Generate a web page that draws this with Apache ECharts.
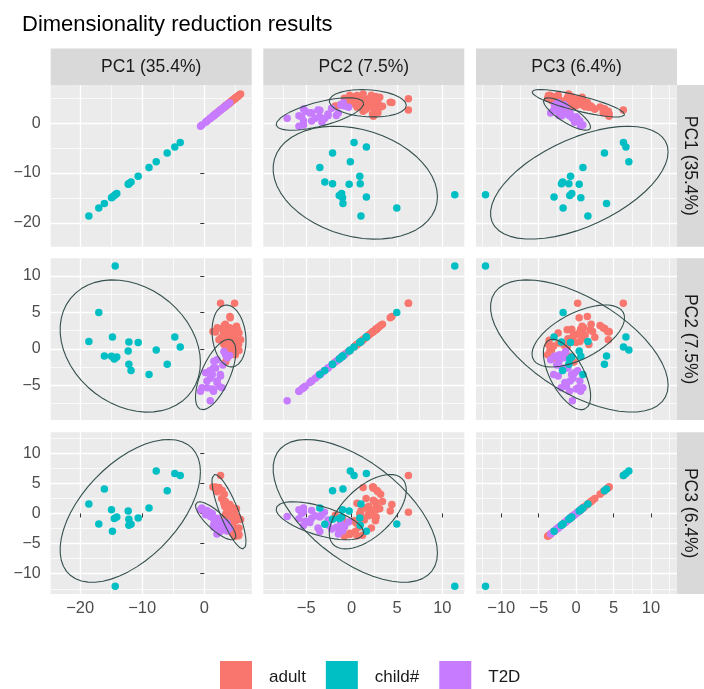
<!DOCTYPE html>
<html>
<head>
<meta charset="utf-8">
<title>Dimensionality reduction results</title>
<script src="https://cdn.jsdelivr.net/npm/echarts@6/dist/echarts.min.js"></script>
<style>
  html, body { margin: 0; padding: 0; background: #ffffff; }
  #chart { width: 704px; height: 689px; }
</style>
</head>
<body>
<div id="chart"></div>
<script>
// ---- data: principal component scores per sample group ----
const groupNames = ['adult', 'child#', 'T2D'];
const pcTitles = ['PC1 (35.4%)', 'PC2 (7.5%)', 'PC3 (6.4%)'];

const adultPC1 = [2.63, 4.89, 4.14, 4.19, 2.9, 1.83, 1.4, 3.44, 5.05, 5.6, 5.86, 2.37, 3.98, 4.78, 3.17, 5.32,
  4.52, 5.6, 3.71, 3.44, 3.98, 3.23, 1.77, 4.73, 5.37, 5.53, 3.66, 4.0, 3.6, 4.3, 3.3, 4.6,
  3.8, 4.9, 3.1, 4.4, 5.1, 4.1, 3.5, 4.7, 2.8, 5.2, 3.9, 4.5, 2.1, 5.0, 4.2, 3.4];
const adultPC2 = [6.26, 6.26, 4.44, 4.26, 2.8, 2.31, 2.4, 2.63, 2.63, 2.18, 1.27, 1.27, 1.04, 0.82, 0.6, 0.4,
  -0.2, -0.2, -1.0, -1.8, -0.6, 3.2, 2.4, 2.7, 2.63, 0.6, -1.3, 2.0, 1.5, 1.8, 1.9, 1.4,
  2.7, 1.9, 2.4, 0.5, 1.2, 2.9, 0.9, 2.3, 1.6, 3.1, 0.3, 2.7, 2.9, -0.8, 1.0, 3.4];
const adultPC3 = [6.3, 0.2, 1.5, 0.4, 3.8, 4.4, 4.4, 1.9, -1.2, -2.4, -1.0, 4.3, 0.5, -2.3, 1.7, -3.0,
  -3.3, -3.5, -0.8, -0.3, -1.5, 3.2, 4.2, 0.9, -0.6, -3.7, -2.6, 0.2, 0.9, -0.3, 1.2, -1.1,
  0.6, -0.4, 2.2, -1.6, -3.6, 1.0, 0.0, 0.5, 2.5, 0.8, -1.2, -0.6, 3.6, -3.8, -0.5, 2.0];

const childPC1 = [-14.35, -17.0, -18.6, -14.8, -12.15, -10.65, -4.75, -3.87, -7.74, -12.26, -16.1, -14.95,
  -14.1, -14.5, -12.15, -11.8, -5.97, -8.9];
const childPC2 = [11.37, 4.98, 1.03, 1.63, 0.95, 0.9, 1.63, 0.27, -0.14, -0.27, -0.95, -1.0,
  -1.1, -1.36, -2.1, -2.95, -2.1, -3.5];
const childPC3 = [-12.1, -1.74, 1.57, -2.95, -1.96, -0.75, 6.65, 6.32, 7.04, 0.41, 4.06, 0.63,
  -0.58, -0.85, -0.97, -1.8, 3.78, 0.91];

const t2dPC1 = [0.97, -0.37, 0.48, 1.29, 1.5, 2.37, 2.85, 0.43, 2.1, 2.05, 0.21, 1.29, 2.63, 2.58,
  1.83, 1.5, 1.56, 2.05, 3.44, 3.7, 3.66, 3.17, 4.1, 0.9, 1.0, 3.0, -0.6];
const t2dPC2 = [-7.1, -5.3, -5.3, -5.5, -5.8, -5.1, -5.3, -4.4, -4.4, -4.6, -3.27, -3.5, -3.7, -3.5,
  -2.6, -2.6, -1.68, -1.46, -0.78, -1.2, -1.0, -0.33, -0.9, -3.0, -4.0, -2.2, -5.8];
const t2dPC3 = [-0.5, 0.9, 0.3, 0.0, -0.9, -1.3, -2.0, 0.5, -0.8, -1.5, -0.2, -0.6, -2.4, -3.0,
  -1.1, -1.9, -2.3, -3.4, -2.2, -1.6, -2.9, -1.4, -2.4, 0.2, -0.4, -2.6, 0.6];

// labelled ticks of each component axis
const pcTicks = [[-20, -10, 0], [-5, 0, 5, 10], [-10, -5, 0, 5, 10]];

// ---- styling / layout ----
const groupColors = { 'adult': '#F8766D', 'child#': '#00BFC4', 'T2D': '#C77CFF' };
const drawOrder = ['adult', 'T2D', 'child#'];
const pcRanges = [[-24.75, 7.65], [-9.73, 12.42], [-13.37, 13.47]];
const pcSplits = [3, 4, 5];
const colLeft = [50.7, 263.3, 476];
const rowTop = [85, 258.3, 432.3];
const panelW = 201;
const panelH = 161.7;
const FONT = '"Liberation Sans", Arial, sans-serif';

const scores = {
  'adult': [adultPC1, adultPC2, adultPC3],
  'child#': [childPC1, childPC2, childPC3],
  'T2D': [t2dPC1, t2dPC2, t2dPC3]
};

// 95% confidence ellipse (same construction as ggplot2::stat_ellipse)
function confidenceEllipse(xs, ys, level, segments) {
  const n = xs.length;
  const mx = xs.reduce((a, b) => a + b, 0) / n;
  const my = ys.reduce((a, b) => a + b, 0) / n;
  let sxx = 0, syy = 0, sxy = 0;
  for (let k = 0; k < n; k++) {
    const dx = xs[k] - mx, dy = ys[k] - my;
    sxx += dx * dx; syy += dy * dy; sxy += dx * dy;
  }
  sxx /= (n - 1); syy /= (n - 1); sxy /= (n - 1);
  const dfd = n - 1;
  const fq = (dfd / 2) * (Math.pow(1 - level, -2 / dfd) - 1); // qf(level, 2, dfd)
  const radius = Math.sqrt(2 * fq);
  const a = Math.sqrt(sxx);
  const b = sxy / a;
  const c = Math.sqrt(Math.max(syy - b * b, 0));
  const pts = [];
  for (let s = 0; s <= segments; s++) {
    const t = 2 * Math.PI * s / segments;
    const u = Math.cos(t), v = Math.sin(t);
    pts.push([mx + radius * a * u, my + radius * (b * u + c * v)]);
  }
  return pts;
}

const fmtMinus = v => (v < 0 ? '\u2212' + Math.abs(v) : String(v));

const grids = [], xAxes = [], yAxes = [], series = [];
for (let i = 0; i < 3; i++) {
  for (let j = 0; j < 3; j++) {
    const k = i * 3 + j;
    grids.push({
      left: colLeft[j], top: rowTop[i], width: panelW, height: panelH,
      show: true, backgroundColor: '#EBEBEB', borderWidth: 0
    });
    const bottomRow = i === 2;
    const leftCol = j === 0;
    xAxes.push({
      type: 'value', gridIndex: k, min: pcRanges[j][0], max: pcRanges[j][1],
      splitNumber: pcSplits[j],
      axisLine: { show: false },
      axisTick: { show: bottomRow, length: 4, customValues: pcTicks[j], lineStyle: { color: '#333333', width: 1 } },
      axisLabel: { show: bottomRow, customValues: pcTicks[j], formatter: fmtMinus, margin: 6,
        color: '#4D4D4D', fontSize: 16.5, fontFamily: FONT },
      splitLine: { show: true, lineStyle: { color: '#FFFFFF', width: 1.3 } },
      minorTick: { show: false, splitNumber: 2 },
      minorSplitLine: { show: true, lineStyle: { color: '#FFFFFF', width: 0.7 } }
    });
    yAxes.push({
      type: 'value', gridIndex: k, min: pcRanges[i][0], max: pcRanges[i][1],
      splitNumber: pcSplits[i],
      axisLine: { show: false },
      axisTick: { show: leftCol, length: 4, customValues: pcTicks[i], lineStyle: { color: '#333333', width: 1 } },
      axisLabel: { show: leftCol, customValues: pcTicks[i], formatter: fmtMinus, margin: 10,
        color: '#4D4D4D', fontSize: 16, fontFamily: FONT },
      splitLine: { show: true, lineStyle: { color: '#FFFFFF', width: 1.3 } },
      minorTick: { show: false, splitNumber: 2 },
      minorSplitLine: { show: true, lineStyle: { color: '#FFFFFF', width: 0.7 } }
    });

    drawOrder.forEach((g, gi) => {
      const xs = scores[g][j], ys = scores[g][i];
      series.push({
        name: g, type: 'scatter', xAxisIndex: k, yAxisIndex: k,
        data: xs.map((x, idx) => [x, ys[idx]]),
        symbol: 'circle', symbolSize: 7.5,
        itemStyle: { color: groupColors[g], opacity: 1 },
        z: 2 + gi, silent: true, animation: false
      });
    });
    if (i !== j) {
      groupNames.forEach(g => {
        series.push({
          name: g + ' ellipse', type: 'line', xAxisIndex: k, yAxisIndex: k,
          data: confidenceEllipse(scores[g][j], scores[g][i], 0.95, 51),
          showSymbol: false, symbol: 'none', smooth: false,
          lineStyle: { color: '#34504E', width: 1.1 },
          z: 10, silent: true, animation: false
        });
      });
    }
  }
}

// facet strips
const graphics = [];
for (let j = 0; j < 3; j++) {
  graphics.push({ type: 'rect', shape: { x: colLeft[j], y: 48.5, width: panelW, height: 36.5 },
    style: { fill: '#D9D9D9' }, silent: true });
  graphics.push({ type: 'text', x: colLeft[j] + panelW / 2, y: 67,
    style: { text: pcTitles[j], fill: '#1A1A1A', fontSize: 17.5, fontFamily: FONT, align: 'center', verticalAlign: 'middle' },
    silent: true });
}
for (let i = 0; i < 3; i++) {
  graphics.push({ type: 'rect', shape: { x: 677, y: rowTop[i], width: 30, height: panelH },
    style: { fill: '#D9D9D9' }, silent: true });
  graphics.push({ type: 'text', x: 690, y: rowTop[i] + panelH / 2, rotation: -Math.PI / 2,
    style: { text: pcTitles[i], fill: '#1A1A1A', fontSize: 17.5, fontFamily: FONT, align: 'center', verticalAlign: 'middle' },
    silent: true });
}

const chart = echarts.init(document.getElementById('chart'), null, { renderer: 'canvas' });
chart.setOption({
  animation: false,
  backgroundColor: '#FFFFFF',
  title: {
    text: 'Dimensionality reduction results', left: 17, top: 9,
    textStyle: { fontSize: 22, fontWeight: 'normal', color: '#000000', fontFamily: FONT }
  },
  legend: {
    data: groupNames, left: 220, top: 661, padding: 0, itemWidth: 32, itemHeight: 32, itemGap: 20,
    icon: 'rect', selectedMode: false,
    textStyle: { fontSize: 17, color: '#1A1A1A', fontFamily: FONT, padding: [0, 0, 0, 12] }
  },
  grid: grids,
  xAxis: xAxes,
  yAxis: yAxes,
  series: series,
  graphic: graphics
});
</script>
</body>
</html>
